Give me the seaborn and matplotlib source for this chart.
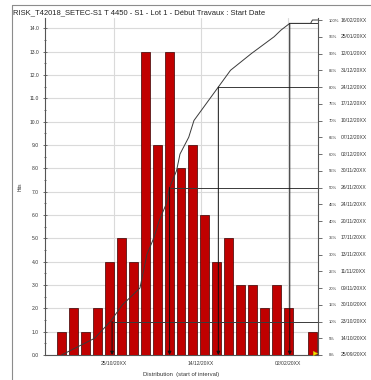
import numpy as np
import pandas as pd
import matplotlib
matplotlib.use("Agg")
import matplotlib.pyplot as plt
import matplotlib.dates as mdates
import matplotlib.ticker as mticker
import matplotlib.transforms as mtransforms
from matplotlib.lines import Line2D
import seaborn as sns

# ---------------- data ----------------
title = "RISK_T42018_SETEC-S1 T 4450 - S1 - Lot 1 - Début Travaux : Start Date"

# histogram of simulated start dates (hits per interval, first to last interval)
hist_first = "2018-09-25"
hist_last = "2019-02-16"
hist_counts = [1, 2, 1, 2, 4, 5, 4, 13, 9, 13, 8, 9, 6, 4, 5, 3, 3, 2, 3, 2, 0, 1]

# cumulative percentiles shown on the right-hand axis
pct_levels = [0, 5, 10, 15, 20, 25, 30, 35, 40, 45, 50,
              55, 60, 65, 70, 75, 80, 85, 90, 95, 100]
pct_dates = ["2018-09-25", "2018-10-14", "2018-10-23", "2018-10-30", "2018-11-09",
             "2018-11-11", "2018-11-13", "2018-11-17", "2018-11-20", "2018-11-24",
             "2018-11-26", "2018-11-30", "2018-12-02", "2018-12-07", "2018-12-10",
             "2018-12-17", "2018-12-24", "2018-12-31", "2019-01-12", "2019-01-25",
             "2019-02-16"]

# cumulative curve: the percentile points plus the flat tail near 100 %
cdf_dates = pct_dates[:-1] + ["2019-01-29", "2019-02-03", "2019-02-15",
                              "2019-02-16", "2019-02-19"]
cdf_pct = pct_levels[:-1] + [97, 99, 99, 100, 100]

# delimiter markers (percentile, date)
marker_pct = [10, 50, 80, 99]
marker_dates = ["2018-10-24", "2018-11-26", "2018-12-24", "2019-02-03"]

# x axis ticks
major_dates = ["2018-10-25", "2018-12-14", "2019-02-02"]
minor_dates = ["2018-09-30", "2018-11-19", "2019-01-08"]
x_range = ["2018-09-15 12:00", "2019-02-19 05:00"]

# deterministic value marker
det_date = "2019-02-17 12:00"

# ---------------- style ----------------
sns.set_theme(style="white")
plt.rcParams["font.family"] = ["Liberation Sans", "DejaVu Sans"]

AX_COL = "#555555"
GRID_COL = "#dadada"
LINE_COL = "#3a3a3a"
BAR_COL = "#c00000"
TEXT_COL = "#333333"
TICK_FS = 3.6
PCT_FS = 3.0


def dnum(s):
    return mdates.datestr2num(s)


W, H = 371, 380
fig = plt.figure(figsize=(W / 100, H / 100), dpi=100)
ax = fig.add_axes([45 / W, 1 - 355 / H, (318 - 45) / W, (355 - 18) / H])

# bars: one interval per hit count, evenly spaced from first to last
centers = np.linspace(dnum(hist_first), dnum(hist_last), len(hist_counts))
step = centers[1] - centers[0]
hist_df = pd.DataFrame({"start": centers, "hits": hist_counts})
sns.histplot(data=hist_df, x="start", weights="hits", bins=len(hist_counts),
             binrange=(centers[0] - step / 2, centers[-1] + step / 2),
             shrink=0.75, color=BAR_COL, edgecolor="#3a0000", linewidth=0.5,
             alpha=1, ax=ax, zorder=3)

ax.set_xlim(dnum(x_range[0]), dnum(x_range[1]))
ax.set_ylim(0, 14.45)

ax.xaxis.set_major_locator(mticker.FixedLocator([dnum(d) for d in major_dates]))
ax.xaxis.set_minor_locator(mticker.FixedLocator([dnum(d) for d in minor_dates]))
ax.xaxis.set_major_formatter(mdates.DateFormatter("%d/%m/20XX"))
ax.yaxis.set_major_locator(mticker.MultipleLocator(1))
ax.yaxis.set_minor_locator(mticker.MultipleLocator(0.5))
ax.yaxis.set_major_formatter(mticker.FormatStrFormatter("%.1f"))

ax.grid(True, which="major", color=GRID_COL, linewidth=0.8, zorder=0)
ax.set_axisbelow(True)
ax.tick_params(axis="both", which="both", colors=AX_COL,
               labelsize=TICK_FS, labelcolor=TEXT_COL, width=0.6)
ax.tick_params(axis="y", which="major", direction="inout", length=3.5, pad=2.5)
ax.tick_params(axis="y", which="minor", direction="inout", length=2)
ax.tick_params(axis="x", which="both", direction="out", length=2.5, pad=2)
ax.tick_params(axis="x", which="minor", length=2)
ax.set_ylabel("Hits", fontsize=TICK_FS, color=TEXT_COL, labelpad=5)
ax.set_xlabel("Distribution  (start of interval)", fontsize=4.2,
              color=TEXT_COL, labelpad=4)
for side in ("top", "right"):
    ax.spines[side].set_visible(False)
for side in ("left", "bottom"):
    ax.spines[side].set_color(AX_COL)
    ax.spines[side].set_linewidth(0.8)

# cumulative curve on the percentage axis
ax2 = ax.twinx()
cdf_df = pd.DataFrame({"date": [dnum(d) for d in cdf_dates], "pct": cdf_pct})
sns.lineplot(data=cdf_df, x="date", y="pct", ax=ax2,
             color=LINE_COL, linewidth=0.7, estimator=None, sort=False)
ax2.set_ylim(0, 100.6)
ax2.set_xlim(ax.get_xlim())
ax2.set_yticks(pct_levels)
ax2.set_yticklabels([f"{p}%" for p in pct_levels])
ax2.set_ylabel("")
ax2.set_xlabel("")
ax2.tick_params(axis="y", direction="out", length=3, pad=5, width=0.6,
                colors=AX_COL, labelsize=PCT_FS, labelcolor=TEXT_COL)
for side in ("top", "left", "bottom"):
    ax2.spines[side].set_visible(False)
ax2.spines["right"].set_color(AX_COL)
ax2.spines["right"].set_linewidth(0.8)

date_tf = mtransforms.blended_transform_factory(fig.transFigure, ax2.transData)
for p, d in zip(pct_levels, pct_dates):
    ax2.text(341 / W, p, mdates.num2date(dnum(d)).strftime("%d/%m/20XX"),
             transform=date_tf, ha="left", va="center",
             fontsize=TICK_FS, color=TEXT_COL, clip_on=False)

# delimiter markers: horizontal to the axis, arrow down to the date
x_right = ax.get_xlim()[1]
for p, d in zip(marker_pct, marker_dates):
    xd = dnum(d)
    ax2.hlines(p, xd, x_right, color=LINE_COL, linewidth=0.7, zorder=4)
    ax2.annotate("", xy=(xd, 0), xytext=(xd, p),
                 arrowprops=dict(arrowstyle="-|>", color="#111111", lw=0.7,
                                 mutation_scale=5, shrinkA=0, shrinkB=0),
                 zorder=4)

ax2.scatter([dnum(det_date)], [0.6], marker=">", s=10, color="#f2e600",
            edgecolor="#c8b800", linewidth=0.3, zorder=5, clip_on=False)

# title and outer frame
fig.text(13 / W, 1 - 13 / H, title, ha="left", va="center", fontsize=5.5,
         color="#222222")
fig.add_artist(Line2D([12 / W, 12 / W], [1 - 5 / H, 0], color="#8c8c8c",
                      linewidth=0.8, transform=fig.transFigure))
fig.add_artist(Line2D([12 / W, 1], [1 - 5 / H, 1 - 5 / H], color="#8c8c8c",
                      linewidth=0.8, transform=fig.transFigure))

fig.savefig("out.png", dpi=100)
